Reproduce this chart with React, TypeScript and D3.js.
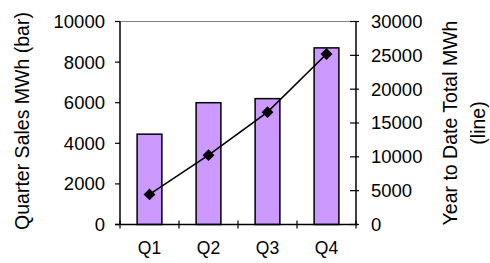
import React from 'react';
import * as d3 from 'd3';

// quarters and values
const quarters = ['Q1', 'Q2', 'Q3', 'Q4'];
const quarterSales = [4450, 6000, 6200, 8700];
const yearToDate = [4450, 10250, 16600, 25200];
const leftTicks = [0, 2000, 4000, 6000, 8000, 10000];
const rightTicks = [0, 5000, 10000, 15000, 20000, 25000, 30000];

const WIDTH = 490;
const HEIGHT = 263;
const margin = { top: 21.5, right: 134, bottom: 38.5, left: 120 };
const FONT = '"Liberation Sans", Arial, sans-serif';

export default function App() {
  const innerW = WIDTH - margin.left - margin.right;
  const innerH = HEIGHT - margin.top - margin.bottom;

  const x = d3.scaleBand<string>()
    .domain(quarters)
    .range([0, innerW])
    .paddingInner(0.58)
    .paddingOuter(0.29);
  const xCat = d3.scaleBand<string>().domain(quarters).range([0, innerW]);

  const yLeft = d3.scaleLinear().domain([0, 10000]).range([innerH, 0]);
  const yRight = d3.scaleLinear().domain([0, 30000]).range([innerH, 0]);

  const line = d3.line<number>()
    .x((_, i) => (xCat(quarters[i]) || 0) + xCat.bandwidth() / 2)
    .y(d => yRight(d));

  const diamond = d3.symbol().type(d3.symbolSquare).size(70)();

  return (
    <svg
      width={WIDTH}
      height={HEIGHT}
      style={{ position: 'absolute', left: 0, top: 0, background: '#fff' }}
      fontFamily={FONT}
    >
      <g transform={`translate(${margin.left},${margin.top})`}>
        {/* plot top border */}
        <line x1={0} x2={innerW} y1={0} y2={0} stroke="#808080" strokeWidth={1} />

        {/* bars */}
        {quarterSales.map((v, i) => (
          <rect
            key={quarters[i]}
            x={x(quarters[i])}
            y={yLeft(v)}
            width={x.bandwidth()}
            height={innerH - yLeft(v)}
            fill="#CC99FF"
            stroke="#000"
            strokeWidth={1.5}
          />
        ))}

        {/* year to date line */}
        <path d={line(yearToDate) || ''} fill="none" stroke="#000" strokeWidth={1.6} />
        {yearToDate.map((v, i) => (
          <path
            key={'m' + i}
            d={diamond || ''}
            transform={`translate(${(xCat(quarters[i]) || 0) + xCat.bandwidth() / 2},${yRight(v)}) rotate(45)`}
            fill="#000"
          />
        ))}

        {/* left axis */}
        <line x1={0} x2={0} y1={0} y2={innerH} stroke="#000" strokeWidth={1.5} />
        {leftTicks.map(t => (
          <g key={'l' + t} transform={`translate(0,${yLeft(t)})`}>
            <line x1={-5} x2={0} stroke="#000" strokeWidth={1.2} />
            <text x={-15} dy="0.35em" textAnchor="end" fontSize={18.5} fill="#000">{t}</text>
          </g>
        ))}

        {/* right axis */}
        <line x1={innerW} x2={innerW} y1={0} y2={innerH} stroke="#000" strokeWidth={1.5} />
        {rightTicks.map(t => (
          <g key={'r' + t} transform={`translate(${innerW},${yRight(t)})`}>
            <line x1={-6} x2={3} stroke="#000" strokeWidth={1.2} />
            <text x={15} dy="0.35em" textAnchor="start" fontSize={18.5} fill="#000">{t}</text>
          </g>
        ))}

        {/* bottom axis */}
        <line x1={-5} x2={innerW + 2} y1={innerH} y2={innerH} stroke="#000" strokeWidth={1.5} />
        {[...quarters.map(q => xCat(q) || 0), innerW].map((px, i) => (
          <line key={'xt' + i} x1={px} x2={px} y1={innerH - 4} y2={innerH + 4} stroke="#000" strokeWidth={1.2} />
        ))}
        {quarters.map(q => (
          <text
            key={'xl' + q}
            x={(xCat(q) || 0) + xCat.bandwidth() / 2}
            y={innerH + 29}
            textAnchor="middle"
            fontSize={17.5}
            fill="#000"
          >
            {q}
          </text>
        ))}
      </g>

      {/* axis titles */}
      <text
        transform={`translate(29,${margin.top + innerH / 2 - 2}) rotate(-90)`}
        textAnchor="middle"
        fontSize={19.5}
        fill="#000"
      >
        Quarter Sales MWh (bar)
      </text>
      <text
        transform={`translate(457,${margin.top + innerH / 2}) rotate(-90)`}
        textAnchor="middle"
        fontSize={19.5}
        fill="#000"
      >
        Year to Date Total MWh
      </text>
      <text
        transform={`translate(485,${margin.top + innerH / 2}) rotate(-90)`}
        textAnchor="middle"
        fontSize={19.5}
        fill="#000"
      >
        (line)
      </text>
    </svg>
  );
}
